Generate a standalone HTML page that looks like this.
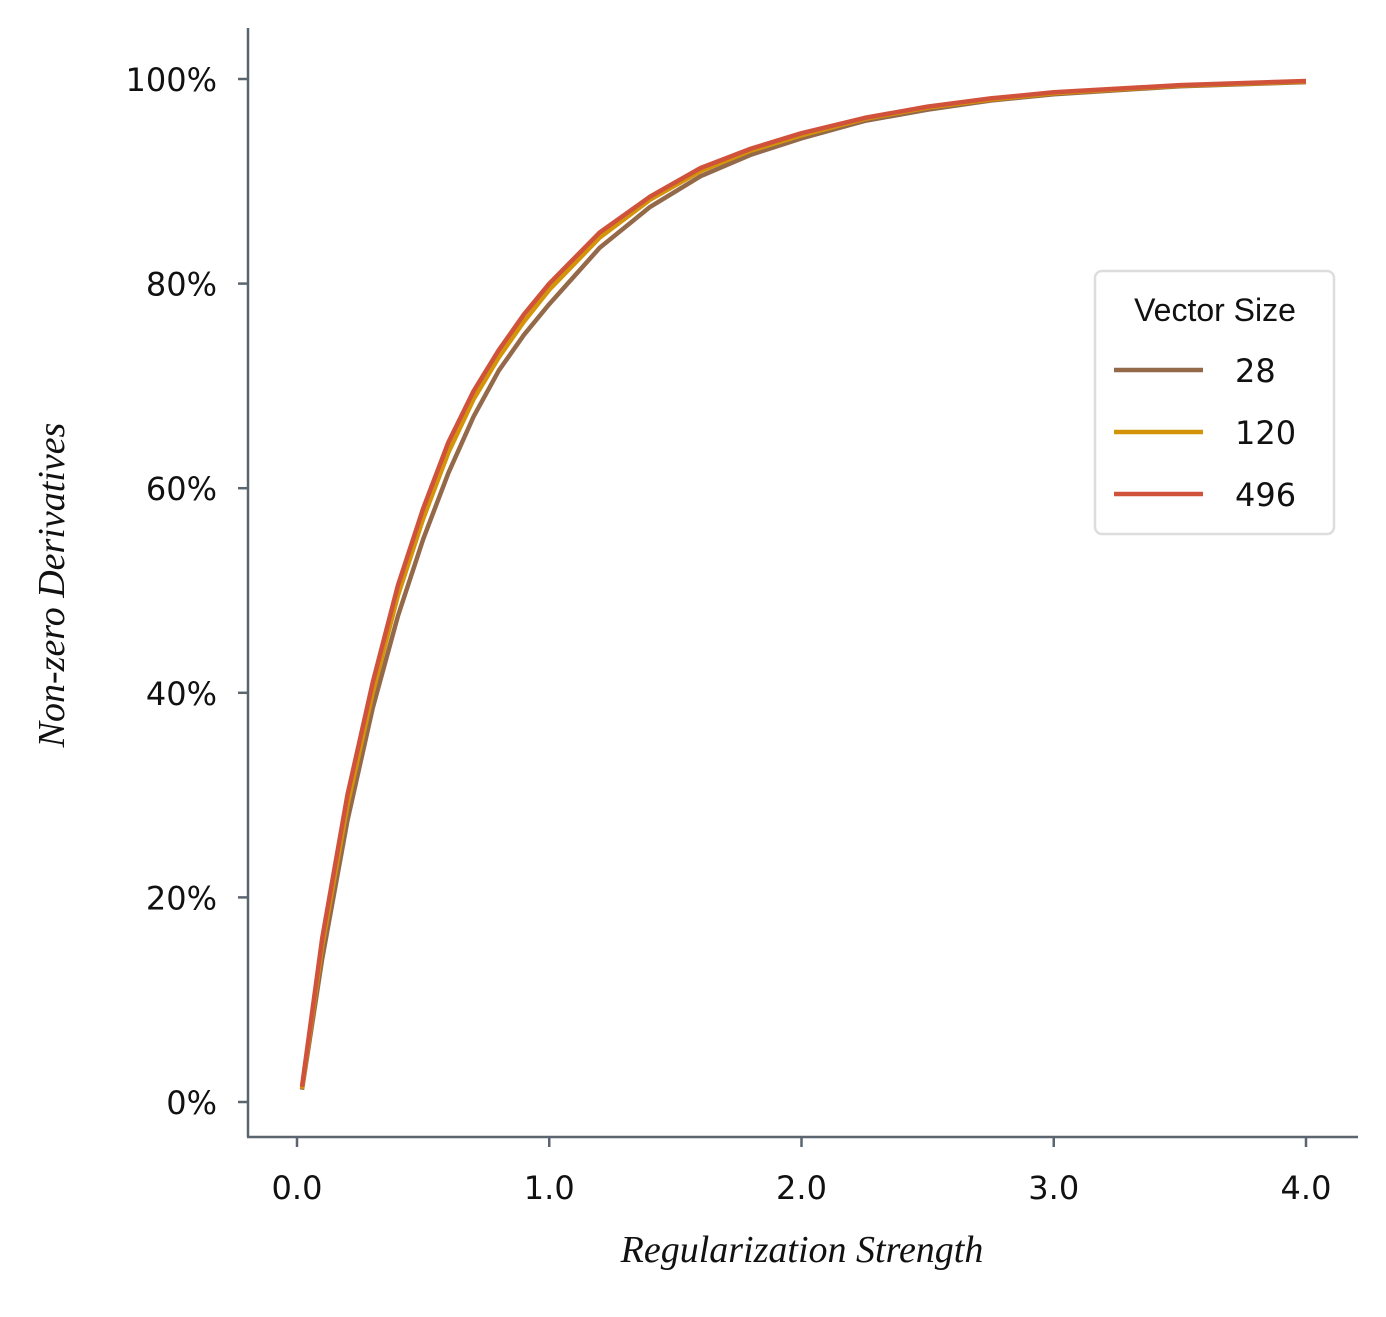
<!DOCTYPE html>
<html><head><meta charset="utf-8"><style>
body{margin:0;background:#fff}
svg{display:block}
text{font-family:"DejaVu Sans","Liberation Sans",sans-serif;fill:#111}
</style></head><body>
<svg id="c" width="1386" height="1317"></svg>
<script>
const xs=[0.02,0.1,0.2,0.3,0.4,0.5,0.6,0.7,0.8,0.9,1.0,1.2,1.4,1.6,1.8,2.0,2.25,2.5,2.75,3.0,3.5,4.0];
const s28=[1.2,14,27.5,38.5,47.5,55,61.5,67,71.5,75,78,83.5,87.5,90.5,92.6,94.2,95.9,97.0,97.9,98.5,99.3,99.7];
const s120=[1.3,15.3,29,40,49.5,57,63.5,68.7,72.8,76.3,79.4,84.5,88.2,91,93,94.5,96.1,97.2,98,98.6,99.35,99.75];
const s496=[1.5,16,30,41,50.5,58,64.5,69.5,73.5,77,80,85,88.5,91.3,93.2,94.7,96.2,97.3,98.1,98.7,99.4,99.8];
const seriesNames=["28","120","496"];
const xTicks=[0,1,2,3,4];
const xTickLabels=["0.0","1.0","2.0","3.0","4.0"];
const yTicks=[0,20,40,60,80,100];
const yTickLabels=["0%","20%","40%","60%","80%","100%"];
const colors=["#94694a","#d4940a","#d0523b"];
const X=v=>297+v*252.25, Y=v=>1102-v*10.23;
const svg=document.getElementById('c');const NS="http://www.w3.org/2000/svg";
function mk(t,a,p){const e=document.createElementNS(NS,t);for(const k in a)e.setAttribute(k,a[k]);(p||svg).appendChild(e);return e;}
let e;
e=mk('line',{x1:248,y1:28,x2:248,y2:1137,stroke:'#5a6570','stroke-width':2.5});


e=mk('line',{x1:247,y1:1137,x2:1358,y2:1137,stroke:'#5a6570','stroke-width':2.5});


xTicks.forEach((v,i)=>{
 e=mk('line',{x1:X(v),y1:1137,x2:X(v),y2:1147,stroke:'#5a6570','stroke-width':2.5});
 
 
 e=mk('text',{x:X(v),y:1199,'text-anchor':'middle','font-size':32});e.textContent=xTickLabels[i];
 
 
});
yTicks.forEach((v,i)=>{
 e=mk('line',{x1:238,y1:Y(v),x2:248,y2:Y(v),stroke:'#5a6570','stroke-width':2.5});
 
 
 e=mk('text',{x:217,y:Y(v)+12,'text-anchor':'end','font-size':32});e.textContent=yTickLabels[i];
 
 
});
e=mk('text',{x:802,y:1262,'text-anchor':'middle','font-size':38,style:'font-family:"Liberation Serif",serif;font-style:italic'});e.textContent='Regularization Strength';


e=mk('text',{x:0,y:0,'text-anchor':'middle','font-size':38,transform:'translate(64,585) rotate(-90)',style:'font-family:"Liberation Serif",serif;font-style:italic'});e.textContent='Non-zero Derivatives';


[s28,s120,s496].forEach((s,i)=>{
 const d=s.map((v,j)=>(j?'L':'M')+X(xs[j]).toFixed(1)+','+Y(v).toFixed(1)).join(' ');
 e=mk('path',{d:d,fill:'none',stroke:colors[i],'stroke-width':4.5,'stroke-linejoin':'round'});
 
 
});
e=mk('rect',{x:1095,y:271,width:239,height:263,rx:7,fill:'#fff','fill-opacity':0.85,stroke:'#ddd','stroke-width':2.5});


e=mk('text',{x:1215,y:321,'text-anchor':'middle','font-size':32,style:'font-family:"Liberation Sans Narrow","Liberation Sans",sans-serif'});e.textContent='Vector Size';


seriesNames.forEach((n,i)=>{
 const y=370+i*62;
 e=mk('line',{x1:1114,y1:y,x2:1203,y2:y,stroke:colors[i],'stroke-width':4.5});
 
 
 e=mk('text',{x:1235,y:y+12,'font-size':32});e.textContent=n;
 
 
});
</script>
</body></html>
